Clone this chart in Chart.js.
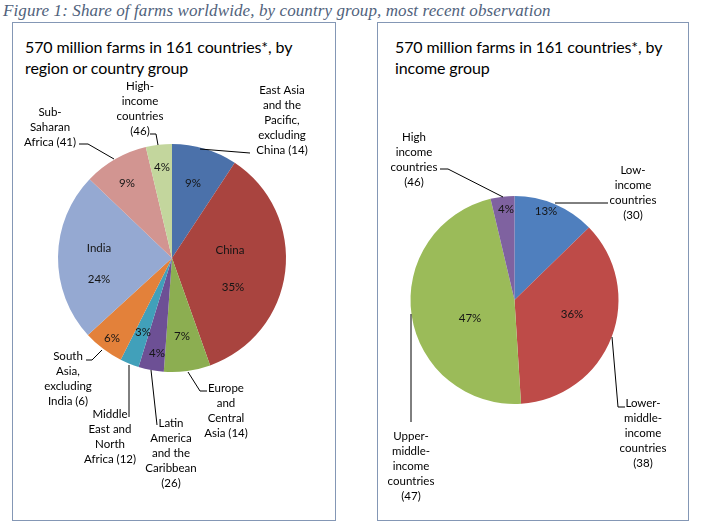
<!DOCTYPE html>
<html>
<head>
<meta charset="utf-8">
<script src="https://cdn.jsdelivr.net/npm/chart.js@4/dist/chart.umd.min.js"></script>
<style>
  html, body { margin: 0; padding: 0; background: #fff; }
  body { width: 702px; height: 524px; position: relative; overflow: hidden; }
  .caption { position: absolute; left: 3px; top: 1px; font-family: "Liberation Serif", serif; font-style: italic; font-size: 17px; letter-spacing: 0.1px; line-height: 19px; color: #50627c; white-space: nowrap; }
  .box { position: absolute; border: 1px solid #8497b5; box-sizing: border-box; }
  .title { position: absolute; font-family: Lato, sans-serif; font-size: 16px; letter-spacing: -0.1px; line-height: 21px; color: #000; white-space: nowrap; }
  canvas { position: absolute; }
</style>
</head>
<body>
<div class="caption">Figure 1: Share of farms worldwide, by country group, most recent observation</div>
<div class="box" style="left:12px; top:22px; width:324px; height:499px;"></div>
<div class="box" style="left:377px; top:22px; width:312px; height:499px;"></div>
<div class="title" style="left:25px; top:36px;">570 million farms in 161 countries*, by<br>region or country group</div>
<div class="title" style="left:395px; top:36px;">570 million farms in 161 countries*, by<br>income group</div>
<canvas id="c1" width="322" height="497" style="left:13px; top:23px;"></canvas>
<canvas id="c2" width="310" height="497" style="left:378px; top:23px;"></canvas>
<script>
// ---------- DATA ----------
const regionCategories = [
  "East Asia and the Pacific, excluding China", "China", "Europe and Central Asia",
  "Latin America and the Caribbean", "Middle East and North Africa",
  "South Asia, excluding India", "India", "Sub-Saharan Africa", "High-income countries"
];
const regionShares = [9.3, 35.4, 6.6, 3.6, 2.7, 5.8, 24.0, 9.2, 3.7];
const regionLabelLines = [
  ["East Asia", "and the", "Pacific,", "excluding", "China (14)"],
  ["China"],
  ["Europe", "and", "Central", "Asia (14)"],
  ["Latin", "America", "and the", "Caribbean", "(26)"],
  ["Middle", "East and", "North", "Africa (12)"],
  ["South", "Asia,", "excluding", "India (6)"],
  ["India"],
  ["Sub-", "Saharan", "Africa (41)"],
  ["High-", "income", "countries", "(46)"]
];
const incomeCategories = ["Low-income countries", "Lower-middle-income countries", "Upper-middle-income countries", "High income countries"];
const incomeShares = [12.7, 36.3, 47.3, 3.7];
const incomeLabelLines = [
  ["Low-", "income", "countries", "(30)"],
  ["Lower-", "middle-", "income", "countries", "(38)"],
  ["Upper-", "middle-", "income", "countries", "(47)"],
  ["High", "income", "countries", "(46)"]
];

// ---------- STYLE / LAYOUT (offsets relative to pie centre) ----------
const regionColors = ['#4B71AA', '#A9443F', '#8CAE51', '#6D5095', '#41A0BA', '#E3813A', '#95A9D2', '#D29591', '#C3D69D'];
const incomeColors = ['#4F7FBE', '#BE4B48', '#9BBB59', '#7F62A0'];

const regionLayout = [
  { pct: [21, -75], outer: [110, -168], leader: [[28, -109], [78, -105]] },
  { pct: [61, 29], name: [58, -8] },
  { pct: [10, 78], outer: [54, 130], leader: [[35, 133], [28, 133], [16, 114]] },
  { pct: [-15, 95], outer: [-1, 165], leader: [[-15, 167], [-21, 112]] },
  { pct: [-29, 74], outer: [-62, 156], leader: [[-43, 159], [-43, 107]] },
  { pct: [-60, 80], outer: [-104, 98], leader: [[-86, 102], [-80, 102], [-70, 92]] },
  { pct: [-73, 21], name: [-73, -10] },
  { pct: [-45, -75], outer: [-122, -146], leader: [[-93, -114], [-84, -114], [-58, -99]] },
  { pct: [-10, -91], outer: [-32, -172], leader: [[-22, -124], [-16, -124], [-14, -113]] }
];
const incomeLayout = [
  { pct: [31.5, -89], outer: [118.5, -130], leader: [[40.5, -97], [93.5, -97]] },
  { pct: [57.5, 14], outer: [128.5, 103], leader: [[110.5, 107], [103.5, 107], [97.5, 37]] },
  { pct: [-44.5, 18], outer: [-103.5, 136], leader: [[-103.5, 122], [-103.5, 14]] },
  { pct: [-8.5, -91], outer: [-100.5, -163], leader: [[-74.5, -131], [-66.5, -131], [-11.5, -103]] }
];

const labelFont = '11.5px Lato, sans-serif';
const lineH = 15;

const pieLabels = {
  id: 'pieLabels',
  afterDatasetsDraw(chart, args, opts) {
    const ctx = chart.ctx;
    const meta = chart.getDatasetMeta(0);
    const data = chart.data.datasets[0].data;
    const total = data.reduce((a, b) => a + b, 0);
    ctx.save();
    ctx.font = labelFont;
    ctx.textAlign = 'center';
    ctx.textBaseline = 'middle';
    meta.data.forEach((arc, i) => {
      const cx = arc.x, cy = arc.y;
      const L = opts.layout[i];
      const lines = opts.lines[i];
      const pct = Math.round(data[i] / total * 100) + '%';
      ctx.fillStyle = '#151515';
      if (L.name) ctx.fillText(lines[0], cx + L.name[0], cy + L.name[1]);
      ctx.fillText(pct, cx + L.pct[0], cy + L.pct[1]);
      if (L.outer) {
        ctx.fillStyle = '#000';
        lines.forEach((t, k) => ctx.fillText(t, cx + L.outer[0], cy + L.outer[1] + k * lineH));
      }
      if (L.leader) {
        ctx.strokeStyle = '#000';
        ctx.lineWidth = 1;
        ctx.beginPath();
        L.leader.forEach((p, k) => {
          const x = cx + p[0], y = cy + p[1];
          if (k === 0) ctx.moveTo(x, y); else ctx.lineTo(x, y);
        });
        ctx.stroke();
      }
    });
    ctx.restore();
  }
};

function makePie(id, labels, values, colors, lines, layout, padding) {
  return new Chart(document.getElementById(id), {
    type: 'pie',
    data: { labels, datasets: [{ data: values, backgroundColor: colors, borderWidth: 0 }] },
    options: {
      responsive: false,
      devicePixelRatio: 1,
      animation: false,
      layout: { padding },
      plugins: {
        legend: { display: false },
        tooltip: { enabled: false },
        pieLabels: { lines, layout }
      }
    },
    plugins: [pieLabels]
  });
}

makePie('c1', regionCategories, regionShares, regionColors, regionLabelLines, regionLayout,
  { left: 45, top: 121, right: 49, bottom: 148 });
makePie('c2', incomeCategories, incomeShares, incomeColors, incomeLabelLines, incomeLayout,
  { left: 32.5, top: 173, right: 69.5, bottom: 116 });
</script>
</body>
</html>
